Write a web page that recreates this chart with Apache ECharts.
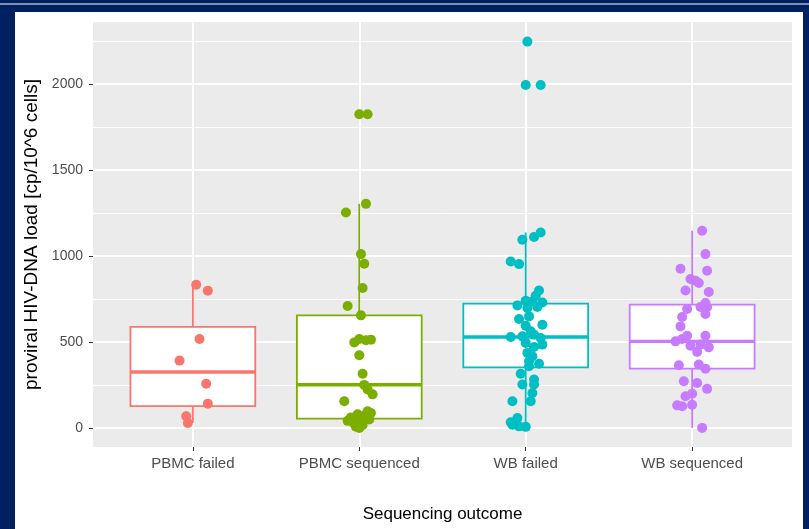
<!DOCTYPE html>
<html>
<head>
<meta charset="utf-8">
<script src="https://cdn.jsdelivr.net/npm/echarts@6/dist/echarts.min.js"></script>
<style>
  html, body { margin: 0; padding: 0; background: #002060; }
  #main { width: 809px; height: 529px; }
</style>
</head>
<body>
<div id="main"></div>
<script>
// categories and colours
var categories = ["PBMC failed", "PBMC sequenced", "WB failed", "WB sequenced"];
var groupColors = ["#F8766D", "#7CAE00", "#00BFC4", "#C77CFF"];

// box stats: [low whisker, Q1, median, Q3, high whisker]
var boxStats = [
  [30, 127, 326, 588, 833],
  [0, 55, 252, 655, 1303],
  [7, 353, 529, 723, 1137],
  [1, 345, 504, 717, 1147]
];

// points (value) and their horizontal jitter (category units)
var pbmcFailedVals = [833, 798, 518, 392, 258, 142, 69, 30];
var pbmcFailedJit = [0.02, 0.09, 0.04, -0.08, 0.08, 0.09, -0.04, -0.03];

var pbmcSeqVals = [1824, 1824, 1303, 1253, 1011, 955, 814, 709, 655, 498, 518, 510, 514, 423, 316, 251, 224, 196, 156,
  98, 88, 80, 72, 62, 50, 42, 35, 25, 18, 8, 0];
var pbmcSeqJit = [0.0, 0.05, 0.04, -0.08, 0.01, 0.03, 0.02, -0.07, 0.01, -0.03, 0.0, 0.04, 0.07, 0.0, 0.02, 0.03, 0.05, 0.08, -0.09,
  0.05, 0.07, -0.01, 0.03, -0.05, 0.06, -0.07, 0.0, -0.03, 0.02, -0.02, 0.0];

var wbFailedVals = [2246, 1994, 1994, 1137, 1110, 1094, 968, 953, 800, 769, 740, 713, 736, 730, 704, 698, 634, 649, 601, 595,
  562, 529, 533, 543, 524, 495, 485, 471, 437, 417, 388, 374, 359, 316, 282, 253, 253, 204, 156, 156, 59, 34, 20, 10, 7];
var wbFailedJit = [0.01, 0.0, 0.09, 0.09, 0.05, -0.02, -0.09, -0.04, 0.08, 0.06, 0.0, -0.05, 0.04, 0.1, 0.07, 0.01, -0.04, 0.02, 0.1, 0.0,
  0.03, -0.09, -0.02, 0.05, 0.09, 0.0, 0.1, 0.05, 0.01, 0.04, 0.02, 0.08, 0.02, -0.03, 0.05, -0.02, 0.05, 0.04, 0.03, -0.08, -0.05, -0.09, -0.08, -0.04, 0.0];

var wbSeqVals = [1147, 1011, 926, 914, 866, 856, 843, 800, 791, 727, 704, 704, 692, 663, 646, 591, 537, 504, 537, 518,
  479, 469, 442, 485, 365, 369, 345, 272, 262, 228, 200, 185, 132, 136, 127, 1];
var wbSeqJit = [0.06, 0.08, -0.07, 0.09, -0.01, 0.02, 0.04, -0.04, 0.1, 0.08, 0.05, 0.09, -0.03, 0.08, -0.06, -0.07, -0.03, -0.1, 0.08, -0.06,
  -0.01, 0.1, 0.03, 0.05, -0.08, 0.04, 0.08, -0.05, 0.03, 0.09, 0.0, -0.04, -0.09, 0.0, -0.06, 0.06];

// tick labels
var yMajorTicks = [0, 500, 1000, 1500, 2000];
var yMinorTicks = [250, 750, 1250, 1750, 2250];
var xTicks = [1, 2, 3, 4];

var pointGroups = [
  [pbmcFailedVals, pbmcFailedJit],
  [pbmcSeqVals, pbmcSeqJit],
  [wbFailedVals, wbFailedJit],
  [wbSeqVals, wbSeqJit]
];

var myChart = echarts.init(document.getElementById("main"));

var boxData = boxStats.map(function (s, i) {
  return [i + 1, s[0], s[1], s[2], s[3], s[4]];
});

var scatterSeries = pointGroups.map(function (g, gi) {
  var pts = [];
  for (var i = 0; i < g[0].length; i++) {
    pts.push([gi + 1 + g[1][i], g[0][i]]);
  }
  return {
    name: categories[gi],
    type: "scatter",
    data: pts,
    symbolSize: 10,
    itemStyle: { color: groupColors[gi], opacity: 1 },
    z: 5,
    silent: true
  };
});

var textFont = "'Liberation Sans', Arial, sans-serif";

var option = {
  backgroundColor: "#002060",
  animation: false,
  graphic: [
    { type: "rect", shape: { x: 0, y: 3, width: 809, height: 2 }, style: { fill: "#7f8fb0" }, z: -10 },
    { type: "rect", shape: { x: 15, y: 12, width: 788, height: 520 }, style: { fill: "#ffffff" }, z: -10 }
  ],
  grid: {
    left: 93,
    top: 22,
    width: 699,
    height: 425,
    show: true,
    backgroundColor: "#ebebeb",
    borderWidth: 0
  },
  xAxis: {
    type: "value",
    min: 0.4,
    max: 4.6,
    name: "Sequencing outcome",
    nameLocation: "middle",
    nameGap: 59,
    nameTextStyle: { color: "#000", fontSize: 17, fontFamily: textFont },
    axisLine: { show: false, onZero: false },
    axisTick: { show: true, customValues: xTicks, length: 4, lineStyle: { color: "#333", width: 1 } },
    axisLabel: {
      customValues: xTicks,
      margin: 9,
      color: "#4d4d4d",
      fontSize: 15,
      fontFamily: textFont,
      formatter: function (v) { return categories[Math.round(v) - 1]; }
    },
    splitLine: { show: true, lineStyle: { color: "#ffffff", width: 2 } }
  },
  yAxis: [
    {
      type: "value",
      min: -110,
      max: 2360,
      name: "proviral HIV-DNA load [cp/10^6 cells]",
      nameLocation: "middle",
      nameGap: 49,
      nameTextStyle: { color: "#000", fontSize: 19, fontFamily: textFont },
      axisLine: { show: false, onZero: false },
      axisTick: { show: true, customValues: yMajorTicks, length: 4, lineStyle: { color: "#333", width: 1 } },
      axisLabel: {
        customValues: yMajorTicks, margin: 10, color: "#4d4d4d", fontSize: 14, fontFamily: textFont,
        formatter: function (v) { return String(v); }
      },
      splitLine: { show: true, lineStyle: { color: "#ffffff", width: 2 } }
    },
    {
      type: "value",
      min: -110,
      max: 2360,
      position: "left",
      axisLine: { show: false, onZero: false },
      axisTick: { show: false, customValues: yMinorTicks },
      axisLabel: { show: false, customValues: yMinorTicks },
      splitLine: { show: true, lineStyle: { color: "#ffffff", width: 1 } }
    }
  ],
  series: [
    {
      type: "custom",
      data: boxData,
      z: 3,
      silent: true,
      renderItem: function (params, api) {
        var x = api.value(0);
        var half = api.size([0.75, 0])[0] / 2;
        var c = groupColors[params.dataIndex];
        var lo = api.coord([x, api.value(1)]);
        var q1 = api.coord([x, api.value(2)]);
        var md = api.coord([x, api.value(3)]);
        var q3 = api.coord([x, api.value(4)]);
        var hi = api.coord([x, api.value(5)]);
        var ls = { stroke: c, lineWidth: 1.8, fill: null };
        return {
          type: "group",
          children: [
            { type: "line", shape: { x1: hi[0], y1: hi[1], x2: q3[0], y2: q3[1] }, style: ls },
            { type: "line", shape: { x1: q1[0], y1: q1[1], x2: lo[0], y2: lo[1] }, style: ls },
            { type: "rect", shape: { x: q3[0] - half, y: q3[1], width: half * 2, height: q1[1] - q3[1] },
              style: { fill: "#ffffff", stroke: c, lineWidth: 1.8 } },
            { type: "line", shape: { x1: md[0] - half, y1: md[1], x2: md[0] + half, y2: md[1] },
              style: { stroke: c, lineWidth: 3.4 } }
          ]
        };
      }
    }
  ].concat(scatterSeries)
};

myChart.setOption(option);
</script>
</body>
</html>
